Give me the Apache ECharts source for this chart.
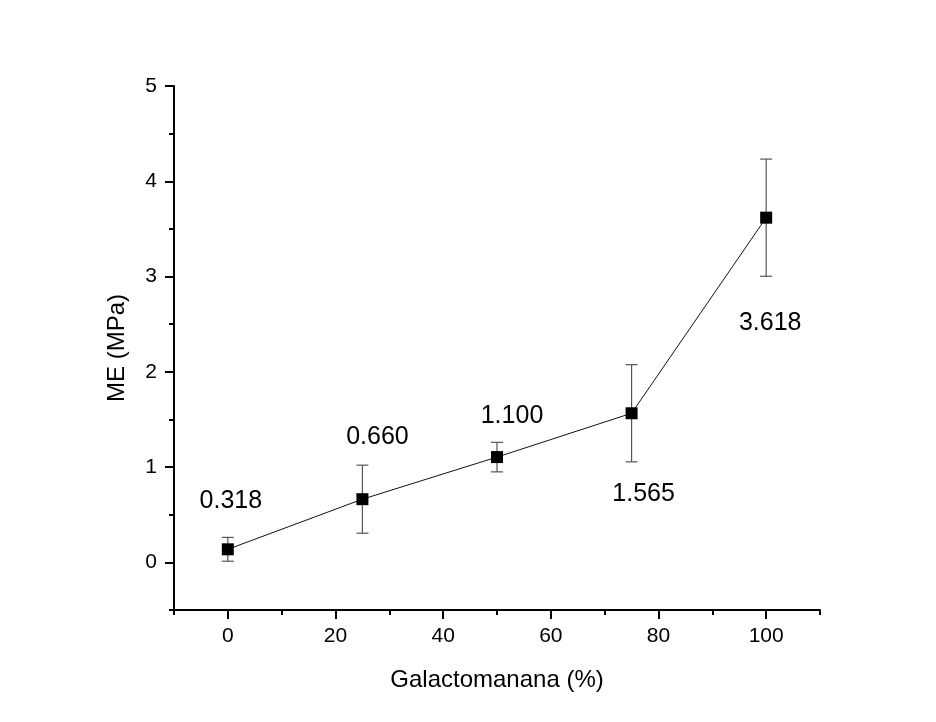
<!DOCTYPE html>
<html>
<head>
<meta charset="utf-8">
<script src="https://cdn.jsdelivr.net/npm/echarts@6/dist/echarts.min.js"></script>
<style>
html,body{margin:0;padding:0;background:#fff;}
#c{width:936px;height:722px;}
</style>
</head>
<body>
<div id="c"></div>
<script>
// Data
var xValues = [0, 25, 50, 75, 100];
var meValues = [0.137, 0.663, 1.105, 1.565, 3.618];
var meErrors = [0.125, 0.357, 0.155, 0.51, 0.615];
var pointLabels = ['0.318', '0.660', '1.100', '1.565', '3.618'];
var xMajorTicks = [0, 20, 40, 60, 80, 100];
var yMajorTicks = [0, 1, 2, 3, 4, 5];

var FONT = '"Liberation Sans", Arial, sans-serif';
var labelOffsets = [[3, -48], [15, -62], [15, -41], [12, 81], [4, 105]];

var chart = echarts.init(document.getElementById('c'), null, {renderer: 'canvas'});

var axisLineStyle = {color: '#000', width: 2};

var option = {
  backgroundColor: '#ffffff',
  animation: false,
  textStyle: {fontFamily: FONT},
  grid: {left: 174, top: 86, right: 116, bottom: 112, containLabel: false},
  xAxis: [
    {
      type: 'value', min: -10, max: 110, interval: 10,
      name: 'Galactomanana (%)', nameLocation: 'middle', nameGap: 58,
      nameTextStyle: {fontSize: 24, color: '#000', fontFamily: FONT},
      axisLine: {show: true, onZero: false, lineStyle: axisLineStyle},
      axisTick: {show: true, length: 5, lineStyle: {color: '#000', width: 2}},
      axisLabel: {
        show: true, fontSize: 21, color: '#000', margin: 16, fontFamily: FONT,
        formatter: function (v) { return xMajorTicks.indexOf(v) >= 0 ? String(v) : ''; }
      },
      splitLine: {show: false}
    },
    {
      type: 'value', min: -10, max: 110, position: 'bottom',
      axisLine: {show: false, onZero: false},
      axisTick: {show: true, length: 9, customValues: xMajorTicks, lineStyle: {color: '#000', width: 2}},
      axisLabel: {show: false},
      splitLine: {show: false}
    }
  ],
  yAxis: [
    {
      type: 'value', min: -0.5, max: 5, interval: 0.5,
      name: 'ME (MPa)', nameLocation: 'middle', nameGap: 45, nameRotate: 90,
      nameTextStyle: {fontSize: 24, color: '#000', fontFamily: FONT},
      axisLine: {show: true, onZero: false, lineStyle: axisLineStyle},
      axisTick: {show: true, length: 5, lineStyle: {color: '#000', width: 2}},
      axisLabel: {
        show: true, fontSize: 21, color: '#000', margin: 17, fontFamily: FONT,
        formatter: function (v) { return yMajorTicks.indexOf(v) >= 0 ? String(v) : ''; }
      },
      splitLine: {show: false}
    },
    {
      type: 'value', min: -0.5, max: 5, position: 'left',
      axisLine: {show: false, onZero: false},
      axisTick: {show: true, length: 9, customValues: yMajorTicks, lineStyle: {color: '#000', width: 2}},
      axisLabel: {show: false},
      splitLine: {show: false}
    }
  ],
  series: [
    {
      type: 'custom',
      name: 'err',
      xAxisIndex: 0, yAxisIndex: 0,
      z: 1,
      data: xValues.map(function (x, i) { return [x, meValues[i], meErrors[i]]; }),
      renderItem: function (params, api) {
        var x = api.value(0), y = api.value(1), e = api.value(2);
        var top = api.coord([x, y + e]);
        var bot = api.coord([x, y - e]);
        var hw = 6;
        var st = {stroke: '#555', lineWidth: 1.2};
        return {
          type: 'group',
          children: [
            {type: 'line', shape: {x1: top[0], y1: top[1], x2: bot[0], y2: bot[1]}, style: st},
            {type: 'line', shape: {x1: top[0] - hw, y1: top[1], x2: top[0] + hw, y2: top[1]}, style: st},
            {type: 'line', shape: {x1: bot[0] - hw, y1: bot[1], x2: bot[0] + hw, y2: bot[1]}, style: st}
          ]
        };
      }
    },
    {
      type: 'line',
      name: 'ME',
      xAxisIndex: 0, yAxisIndex: 0,
      z: 3,
      symbol: 'rect',
      symbolSize: 12,
      itemStyle: {color: '#000'},
      lineStyle: {color: '#111', width: 1},
      data: xValues.map(function (x, i) {
        return {
          value: [x, meValues[i]],
          label: {
            show: true,
            formatter: pointLabels[i],
            position: 'inside',
            offset: labelOffsets[i],
            fontSize: 25,
            color: '#000',
            fontFamily: FONT
          }
        };
      })
    }
  ]
};

chart.setOption(option);
</script>
</body>
</html>
